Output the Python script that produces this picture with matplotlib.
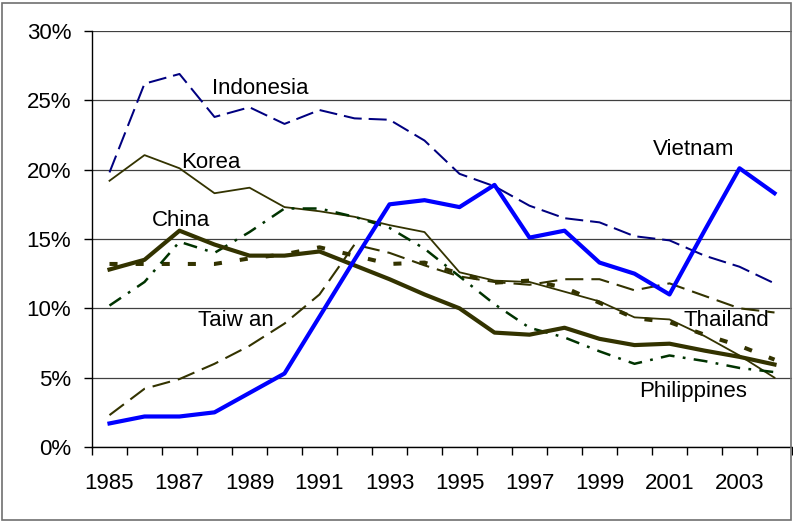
import matplotlib
matplotlib.use("Agg")
import matplotlib.pyplot as plt
from matplotlib.patches import Rectangle
from matplotlib.ticker import FuncFormatter, FixedLocator

plt.rcParams.update({
    "font.family": ["Liberation Sans", "DejaVu Sans"],
    "font.size": 16,
    "lines.scale_dashes": False,
})

years = [1985, 1986, 1987, 1988, 1989, 1990, 1991, 1992, 1993, 1994,
         1995, 1996, 1997, 1998, 1999, 2000, 2001, 2002, 2003, 2004]

# shares in %
vietnam = [1.7, 2.2, 2.2, 2.5, 3.9, 5.3, 9.4, 13.5, 17.5, 17.8,
           17.3, 18.9, 15.1, 15.6, 13.3, 12.5, 11.0, 15.6, 20.1, 18.3]
indonesia = [19.8, 26.2, 26.9, 23.8, 24.5, 23.3, 24.3, 23.7, 23.6, 22.1,
             19.7, 18.8, 17.4, 16.5, 16.2, 15.2, 14.9, 13.8, 13.0, 11.8]
korea = [19.2, 21.05, 20.1, 18.3, 18.7, 17.3, 17.0, 16.6, 16.0, 15.5,
         12.6, 12.0, 11.9, 11.2, 10.5, 9.35, 9.2, 8.0, 6.6, 5.0]
china = [12.8, 13.5, 15.6, 14.6, 13.8, 13.8, 14.1, 13.1, 12.1, 11.0,
         10.0, 8.25, 8.1, 8.6, 7.8, 7.35, 7.45, 6.95, 6.5, 5.95]
philippines = [10.2, 11.9, 14.8, 14.0, 15.5, 17.2, 17.2, 16.6, 15.8, 14.3,
               12.3, 10.3, 8.6, 7.9, 6.9, 6.0, 6.6, 6.2, 5.7, 5.4]
thailand = [13.2, 13.2, 13.2, 13.2, 13.6, 13.9, 14.4, 13.8, 13.2, 13.3,
            12.5, 11.85, 12.0, 11.5, 10.4, 9.3, 9.0, 8.1, 7.3, 6.3]
taiwan = [2.3, 4.2, 4.9, 6.0, 7.3, 8.9, 11.0, 14.6, 14.0, 13.1,
          12.3, 11.9, 11.7, 12.1, 12.1, 11.3, 11.8, 10.9, 10.0, 9.7]

OLIVE = "#333300"
GREEN = "#003300"

fig = plt.figure(figsize=(7.93, 5.21), dpi=100)
ax = fig.add_axes([92 / 793, 74 / 521, 700 / 793, 416 / 521])
x = list(range(len(years)))

ax.plot(x, taiwan, color=OLIVE, lw=1.5, dashes=(13, 5.8), zorder=3)
ax.plot(x, thailand, color=OLIVE, lw=2.9, dashes=(5.8, 13), zorder=3)
ax.plot(x, korea, color=OLIVE, lw=1.3, zorder=3)
ax.plot(x, philippines, color=GREEN, lw=1.8, dashes=(10, 6, 2, 6), zorder=3)
ax.plot(x, china, color=OLIVE, lw=3, zorder=4)
ax.plot(x, indonesia, color="#000080", lw=1.45, dashes=(13, 5), zorder=4)
ax.plot(x, vietnam, color="#0000FF", lw=3, zorder=5)

labels = [
    ("Indonesia", 2.93, 25.45),
    ("Korea", 2.04, 20.14),
    ("China", 1.22, 15.93),
    ("Taiw an", 2.54, 8.72),
    ("Vietnam", 15.52, 21.05),
    ("Thailand", 16.41, 8.72),
    ("Philippines", 15.14, 3.63),
]
for name, lx, ly in labels:
    ax.text(lx, ly, name, ha="left", va="baseline", fontsize=16, zorder=6)

ax.set_xlim(-0.5, len(years) - 0.5)
ax.set_ylim(0, 30)
ax.set_yticks([0, 5, 10, 15, 20, 25, 30])
ax.yaxis.set_major_formatter(FuncFormatter(lambda v, _: f"{v:.0f}%"))
ax.grid(axis="y", color="#404040", lw=0.9)
ax.set_axisbelow(True)

ax.xaxis.set_major_locator(FixedLocator(x[::2]))
ax.set_xticklabels([str(y) for y in years[::2]])
ax.xaxis.set_minor_locator(FixedLocator([i - 0.5 for i in range(len(years) + 1)]))
ax.tick_params(axis="x", which="major", length=0, pad=19)
ax.tick_params(axis="x", which="minor", length=6, width=1, direction="out")
ax.tick_params(axis="y", length=6, width=1, direction="out", pad=9)

for side in ("top", "right"):
    ax.spines[side].set_visible(False)
for side in ("left", "bottom"):
    ax.spines[side].set_color("black")
    ax.spines[side].set_linewidth(1)

fig.patches.append(Rectangle((2 / 793, 1 / 521), 789 / 793, 517 / 521,
                             transform=fig.transFigure, fill=False,
                             edgecolor="#707070", lw=1.2))

fig.savefig("out.png", dpi=100)
